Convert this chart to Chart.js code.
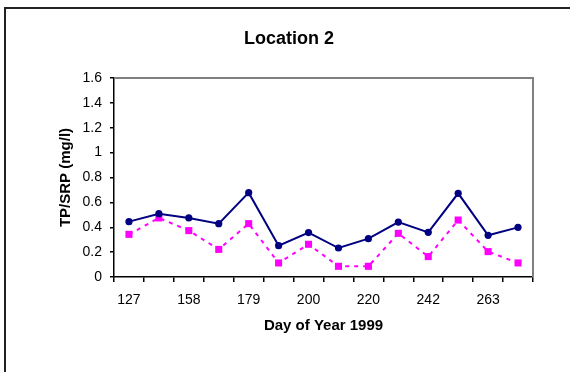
<!DOCTYPE html>
<html>
<head>
<meta charset="utf-8">
<script src="https://cdn.jsdelivr.net/npm/chart.js@4.4.0/dist/chart.umd.min.js"></script>
<style>
  html, body { margin: 0; padding: 0; background: #fff; }
  #wrap { width: 570px; height: 372px; position: relative; }
</style>
</head>
<body>
<div id="wrap"><canvas id="c" width="570" height="372"></canvas></div>
<script>
// Sampling days (only every other one is labelled on the axis)
const days = ['127', '', '158', '', '179', '', '200', '', '220', '', '242', '', '263', ''];
// Total phosphorus (mg/l)
const tp  = [0.445, 0.509, 0.475, 0.429, 0.678, 0.252, 0.357, 0.233, 0.308, 0.442, 0.359, 0.673, 0.335, 0.399];
// Soluble reactive phosphorus (mg/l)
const srp = [0.343, 0.475, 0.373, 0.222, 0.429, 0.113, 0.263, 0.086, 0.086, 0.351, 0.164, 0.458, 0.204, 0.113];

const FONT = "'Liberation Sans', Arial, sans-serif";

// Page frame plus the grey top/right edges of the plot box
const framePlugin = {
  id: 'frame',
  beforeDraw(chart) {
    const ctx = chart.ctx;
    ctx.save();
    ctx.fillStyle = '#fff';
    ctx.fillRect(0, 0, chart.width, chart.height);
    ctx.strokeStyle = '#222';
    ctx.lineWidth = 2;
    ctx.beginPath();
    ctx.moveTo(5, chart.height + 5);
    ctx.lineTo(5, 8);
    ctx.lineTo(chart.width + 5, 8);
    ctx.stroke();
    ctx.restore();
  },
  beforeDatasetsDraw(chart) {
    const { ctx, chartArea: a } = chart;
    ctx.save();
    ctx.strokeStyle = '#808080';
    ctx.lineWidth = 2;
    ctx.beginPath();
    ctx.moveTo(a.left, a.top);
    ctx.lineTo(a.right, a.top);
    ctx.lineTo(a.right, a.bottom);
    ctx.stroke();
    ctx.restore();
  }
};

new Chart(document.getElementById('c'), {
  type: 'line',
  data: {
    labels: days,
    datasets: [
      {
        label: 'TP',
        data: tp,
        borderColor: '#000080',
        backgroundColor: '#000080',
        borderWidth: 2,
        pointStyle: 'circle',
        pointRadius: 3.6,
        pointBorderWidth: 0,
        tension: 0
      },
      {
        label: 'SRP',
        data: srp,
        borderColor: '#ff00ff',
        backgroundColor: '#ff00ff',
        borderWidth: 2,
        borderDash: [4, 5],
        pointStyle: 'rect',
        pointRadius: 5,
        pointBorderWidth: 0,
        tension: 0
      }
    ]
  },
  options: {
    responsive: false,
    animation: false,
    devicePixelRatio: 1,
    layout: { padding: { left: 45, right: 37, top: 0, bottom: 0 } },
    plugins: {
      legend: { display: false },
      tooltip: { enabled: false },
      title: {
        display: true,
        text: 'Location 2',
        color: '#000',
        font: { family: FONT, size: 18, weight: 'bold', lineHeight: 1.2 },
        padding: { top: 28.5, bottom: 27.9 }
      }
    },
    scales: {
      x: {
        type: 'category',
        offset: true,
        afterFit(s) { s.height = 95; },
        border: { display: true, color: '#000', width: 1.5 },
        grid: { offset: true, drawOnChartArea: false, drawTicks: true, tickLength: 5, color: '#000', lineWidth: 1.5 },
        ticks: {
          autoSkip: false, maxRotation: 0, minRotation: 0, padding: 10,
          color: '#000', font: { family: FONT, size: 14 }
        },
        title: {
          display: true, text: 'Day of Year 1999', color: '#000',
          font: { family: FONT, size: 15, weight: 'bold', lineHeight: 1.2 },
          padding: { top: 0, bottom: 37 }
        }
      },
      y: {
        min: 0, max: 1.6,
        afterFit(s) { s.width = 69; },
        border: { display: true, color: '#000', width: 1.5 },
        grid: { drawOnChartArea: false, drawTicks: true, tickLength: 4, color: '#000', lineWidth: 1.5 },
        ticks: {
          stepSize: 0.2, padding: 8, color: '#000',
          font: { family: FONT, size: 14 },
          callback: v => String(Math.round(v * 10) / 10)
        },
        title: {
          display: true, text: 'TP/SRP (mg/l)', color: '#000',
          font: { family: FONT, size: 15, weight: 'bold', lineHeight: 1.2 },
          padding: { top: 12, bottom: 0 }
        }
      }
    }
  },
  plugins: [framePlugin]
});
</script>
</body>
</html>
